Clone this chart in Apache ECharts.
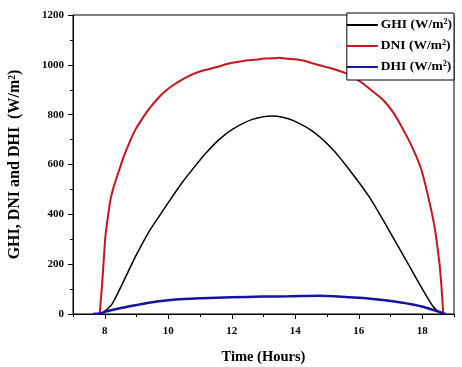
<!DOCTYPE html>
<html>
<head>
<meta charset="utf-8">
<script src="https://cdn.jsdelivr.net/npm/echarts@6/dist/echarts.min.js"></script>
<style>
    html, body { margin: 0; padding: 0; background: #fff; }
    #chart { width: 462px; height: 367px; }
</style>
</head>
<body>
<div id="chart"></div>
<script>
// hours / values
const seriesNames = ['GHI (W/m²)', 'DNI (W/m²)', 'DHI (W/m²)'];
const xTickLabels = [8, 10, 12, 14, 16, 18];
const yTickLabels = [0, 200, 400, 600, 800, 1000, 1200];

const ghiHours = [7.84, 8.0, 8.23, 8.55, 8.97, 9.39, 9.7, 9.91, 10.44, 10.97, 11.18, 11.6, 12.02, 12.65, 13.28, 13.6, 13.91, 14.54, 15.17, 15.8, 16.34, 16.76, 17.18, 17.6, 18.02, 18.33, 18.5, 18.66];
const ghiValues = [0, 12, 40, 120, 231, 330, 390, 430, 528, 613, 645, 700, 741, 781, 795, 790, 778, 734, 662, 563, 468, 379, 285, 191, 97, 32, 10, 0];

const dniHours = [7.84, 7.88, 7.92, 7.97, 8.02, 8.1, 8.18, 8.28, 8.39, 8.5, 8.6, 8.8, 8.97, 9.2, 9.39, 9.65, 9.91, 10.2, 10.55, 10.97, 11.5, 12.0, 12.3, 12.5, 12.8, 13.0, 13.3, 13.5, 13.7, 14.0, 14.2, 14.5, 14.8, 15.07, 15.3, 15.6, 16.0, 16.34, 16.76, 17.08, 17.4, 17.7, 17.97, 18.18, 18.38, 18.54, 18.62, 18.66];
const dniValues = [0, 60, 125, 220, 311, 390, 459, 510, 553, 595, 633, 695, 741, 787, 822, 862, 895, 922, 949, 972, 990, 1008, 1014, 1018, 1021, 1025, 1026, 1028, 1025, 1022, 1018, 1008, 997, 988, 979, 966, 937, 904, 860, 810, 740, 665, 580, 475, 355, 205, 85, 0];

const dhiHours = [7.63, 7.84, 8.1, 8.55, 9.0, 9.39, 10.0, 10.5, 11.07, 12.0, 12.96, 13.8, 14.75, 15.2, 15.7, 16.3, 16.76, 17.28, 17.7, 18.02, 18.3, 18.5, 18.73];
const dhiValues = [0, 2, 12, 25, 36, 45, 55, 60, 63, 67, 70, 71, 73, 71, 67, 62, 56, 47, 38, 29, 18, 10, 0];

(() => {
    let chart;
    const serif = '"Liberation Serif", "DejaVu Serif", serif';

    function pairs(xs, ys) {
        return xs.map((x, i) => [x, ys[i]]);
    }

    function makeSeries(name, xs, ys, color, width) {
        return {
            name: name,
            type: 'line',
            showSymbol: false,
            symbol: 'none',
            smooth: 0.25,
            data: pairs(xs, ys),
            lineStyle: { color: color, width: width },
            itemStyle: { color: color },
            animation: false
        };
    }

    function init() {
        chart = echarts.init(document.getElementById('chart'), null, { renderer: 'canvas' });
        const option = {
            backgroundColor: '#fff',
            animation: false,
            grid: {
                left: 73, right: 8, top: 15, bottom: 53,
                outerBoundsMode: 'none',
                containLabel: false,
                show: true, borderColor: '#000', borderWidth: 1, backgroundColor: '#fff'
            },
            legend: {
                right: 8, top: 13,
                orient: 'vertical',
                icon: 'rect',
                itemWidth: 31, itemHeight: 2,
                itemGap: 7,
                padding: [5, 2, 6, 0],
                borderColor: '#000', borderWidth: 1,
                backgroundColor: '#fff',
                textStyle: { fontFamily: serif, fontWeight: 'bold', fontSize: 13.5, color: '#000', padding: [0, 0, 0, -2] },
                data: seriesNames
            },
            xAxis: [{
                type: 'value',
                min: 7, max: 19,
                name: 'Time (Hours)',
                nameLocation: 'middle',
                nameGap: 36,
                nameTextStyle: { fontFamily: serif, fontWeight: 'bold', fontSize: 14.5, color: '#000' },
                axisLine: { show: true, onZero: false, lineStyle: { color: '#000', width: 1 } },
                axisTick: { show: true, customValues: xTickLabels, length: 5, lineStyle: { color: '#000' } },
                axisLabel: { customValues: xTickLabels, margin: 12, fontFamily: serif, fontWeight: 'bold', fontSize: 11, color: '#000' },
                splitLine: { show: false }
            }, {
                // minor ticks on every hour
                type: 'value',
                position: 'bottom',
                min: 7, max: 19, interval: 1,
                axisLine: { show: false },
                axisTick: { show: true, length: 3, lineStyle: { color: '#000' } },
                axisLabel: { show: false },
                splitLine: { show: false }
            }],
            yAxis: {
                type: 'value',
                min: 0, max: 1200, interval: 200,
                name: 'GHI, DNI and DHI  (W/m²)',
                nameLocation: 'middle',
                nameGap: 50,
                nameTextStyle: { fontFamily: serif, fontWeight: 'bold', fontSize: 16, color: '#000' },
                axisLine: { show: true, lineStyle: { color: '#000', width: 1 } },
                axisTick: { show: true, length: 5, lineStyle: { color: '#000' } },
                minorTick: { show: true, splitNumber: 2, length: 3, lineStyle: { color: '#000' } },
                axisLabel: {
                    margin: 9, fontFamily: serif, fontWeight: 'bold', fontSize: 11, color: '#000',
                    formatter: v => String(v)
                },
                splitLine: { show: false }
            },
            series: [
                makeSeries(seriesNames[0], ghiHours, ghiValues, '#000000', 1.5),
                makeSeries(seriesNames[1], dniHours, dniValues, '#c8141e', 2),
                makeSeries(seriesNames[2], dhiHours, dhiValues, '#1414a0', 2.5)
            ]
        };
        chart.setOption(option);
    }

    window.onload = function () {
        init();
    }
})();
</script>
</body>
</html>
